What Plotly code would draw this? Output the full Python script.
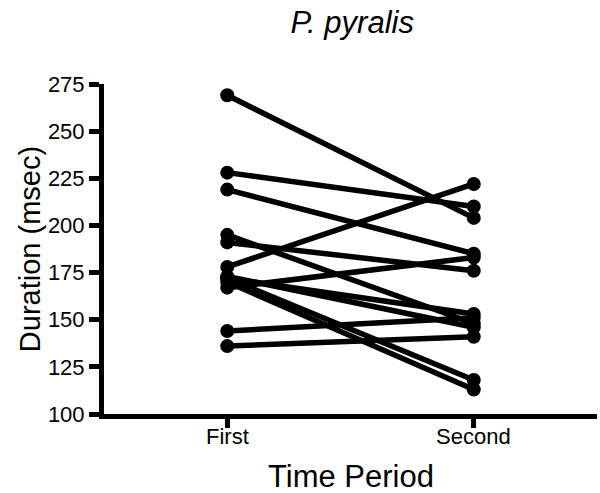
import plotly.graph_objects as go

periods = ["First", "Second"]
first = [269, 228, 219, 178, 195, 191, 167, 172, 172, 170, 144, 136, 173]
second = [204, 210, 185, 222, 148, 176, 183, 153, 118, 113, 151, 141, 146]
y_ticks = [100, 125, 150, 175, 200, 225, 250, 275]

fig = go.Figure()
for a, b in zip(first, second):
    fig.add_trace(go.Scatter(
        x=[0, 1], y=[a, b], mode="lines+markers",
        line=dict(color="black", width=5.5),
        marker=dict(color="black", size=14),
        showlegend=False, hoverinfo="skip"))

font_family = "Liberation Sans, Arial, sans-serif"

annotations = [
    dict(x=i, y=0, xref="x", yref="paper", text=lab, showarrow=False,
         xanchor="center", yanchor="top", yshift=-8, font=dict(size=22))
    for i, lab in enumerate(periods)
]
annotations.append(dict(x=0.5, y=0, xref="x", yref="paper", text="Time Period",
                        showarrow=False, xanchor="center", yanchor="top",
                        yshift=-43, font=dict(size=31)))

fig.update_layout(
    width=600, height=493,
    margin=dict(l=104, r=3, t=84, b=79),
    paper_bgcolor="white", plot_bgcolor="white",
    font=dict(family=font_family, color="black"),
    title=dict(text="<i>P. pyralis</i>", x=0.587, xanchor="center",
               y=0.955, yanchor="middle", font=dict(size=31)),
    annotations=annotations,
    xaxis=dict(range=[-0.5, 1.5], tickvals=[0, 1], showticklabels=False,
               showline=True, linecolor="black", linewidth=5,
               ticks="outside", ticklen=9, tickwidth=5, tickcolor="black",
               showgrid=False, zeroline=False),
    yaxis=dict(range=[100, 275], tickvals=y_ticks,
               showline=True, linecolor="black", linewidth=5,
               ticks="outside", ticklen=10, tickwidth=5, tickcolor="black",
               tickfont=dict(size=22), showgrid=False, zeroline=False,
               title=dict(text="Duration (msec)", font=dict(size=29), standoff=0)),
)
fig.write_html("out.html")
